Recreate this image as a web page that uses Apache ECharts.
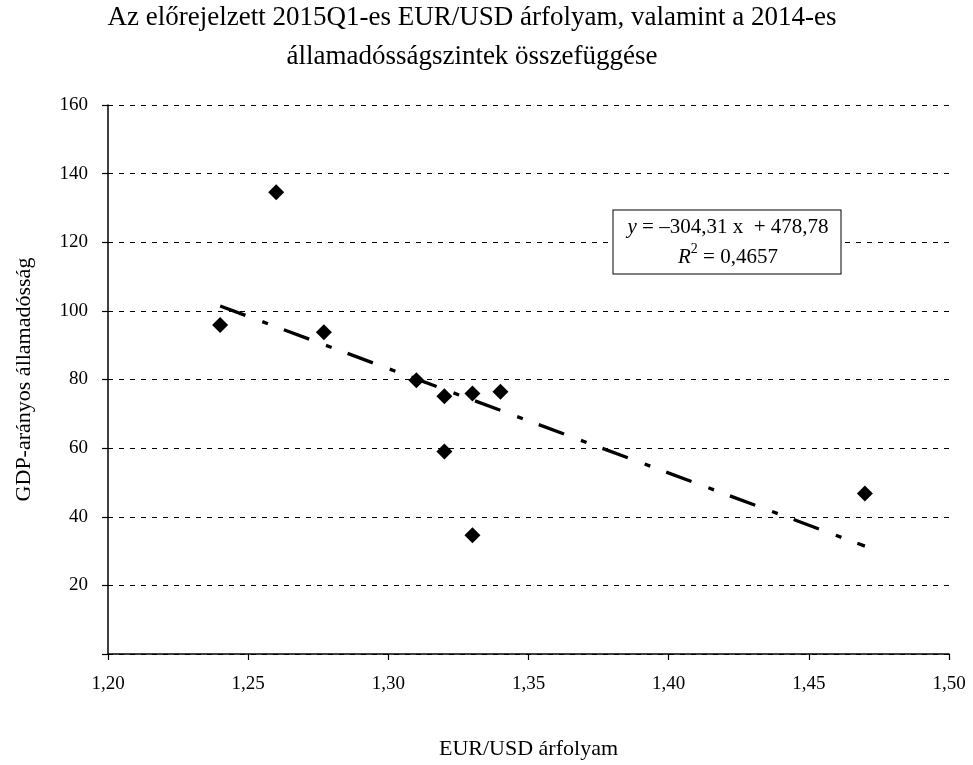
<!DOCTYPE html>
<html>
<head>
<meta charset="utf-8">
<script src="https://cdn.jsdelivr.net/npm/echarts@6/dist/echarts.min.js"></script>
<style>html,body{margin:0;padding:0;background:#fff}#c{width:973px;height:765px}</style>
</head>
<body>
<div id="c"></div>
<script>
// Data
const eurUsd = [1.24, 1.26, 1.277, 1.31, 1.32, 1.32, 1.33, 1.33, 1.34, 1.47];
const debtRatio = [95.9, 134.6, 93.8, 79.8, 75.1, 59.0, 75.9, 34.6, 76.4, 46.8];
const trendSlope = -304.31;
const trendIntercept = 478.78;
const rSquared = 0.4657;
const xTicks = [1.20, 1.25, 1.30, 1.35, 1.40, 1.45, 1.50];
const yTicks = [0, 20, 40, 60, 80, 100, 120, 140, 160];
const titleLines = ['Az előrejelzett 2015Q1-es EUR/USD árfolyam, valamint a 2014-es', 'államadósságszintek összefüggése'];
const xName = 'EUR/USD árfolyam';
const yName = 'GDP-arányos államadósság';

const FONT = "'Liberation Serif', 'Times New Roman', serif";
const fmt = (v, d) => v.toFixed(d).replace('.', ',');

const points = eurUsd.map((x, i) => [x, debtRatio[i]]);
const xMinData = Math.min(...eurUsd), xMaxData = Math.max(...eurUsd);
const trend = [xMinData, xMaxData].map(x => [x, trendIntercept + trendSlope * x]);

const chart = echarts.init(document.getElementById('c'), null, {renderer: 'canvas'});
chart.setOption({
  backgroundColor: '#fff',
  animation: false,
  textStyle: {fontFamily: FONT, color: '#000'},
  grid: {left: 108, right: 24, top: 105, bottom: 110, containLabel: false},
  xAxis: {
    type: 'value',
    min: xTicks[0], max: xTicks[xTicks.length - 1], interval: 0.05,
    name: xName, nameLocation: 'middle', nameGap: 84,
    nameTextStyle: {fontFamily: FONT, fontSize: 22, color: '#000'},
    axisLine: {show: true, onZero: false, lineStyle: {color: '#000', width: 1.5}},
    axisTick: {show: true, length: 6, lineStyle: {color: '#000', width: 1.2}},
    axisLabel: {fontFamily: FONT, fontSize: 19, color: '#000', margin: 21, formatter: v => fmt(v, 2)},
    splitLine: {show: false}
  },
  yAxis: {
    type: 'value',
    min: yTicks[0], max: yTicks[yTicks.length - 1], interval: 20,
    name: yName, nameLocation: 'middle', nameGap: 73, nameRotate: 90,
    nameTextStyle: {fontFamily: FONT, fontSize: 22, color: '#000'},
    axisLine: {show: true, onZero: false, lineStyle: {color: '#000', width: 1.5}},
    axisTick: {show: true, length: 6, lineStyle: {color: '#000', width: 1.2}},
    axisLabel: {fontFamily: FONT, fontSize: 19, color: '#000', margin: 20, formatter: v => (v === 0 ? '' : String(v))},
    splitLine: {show: true, lineStyle: {color: '#000', width: 1.2, type: [5, 6]}}
  },
  series: [
    {
      type: 'line',
      data: trend,
      showSymbol: false,
      symbol: 'none',
      lineStyle: {color: '#000', width: 3.3, type: [27, 18, 6, 17]},
      z: 2
    },
    {
      type: 'scatter',
      data: points,
      symbol: 'diamond',
      symbolSize: 16,
      itemStyle: {color: '#000', opacity: 1},
      z: 3
    }
  ],
  graphic: [
    {
      type: 'text',
      x: 472, y: -2,
      style: {
        text: titleLines.join('\n'),
        font: '27px ' + FONT,
        fill: '#000',
        align: 'center',
        verticalAlign: 'top',
        lineHeight: 39
      }
    },
    {
      type: 'text',
      x: 727, y: 242,
      style: {
        text: '{i|y} = –' + fmt(-trendSlope, 2) + ' x  + ' + fmt(trendIntercept, 2) + '\n{i|R}{s|2} = ' + fmt(rSquared, 4),
        font: '21px ' + FONT,
        fill: '#000',
        align: 'center',
        verticalAlign: 'middle',
        lineHeight: 30,
        backgroundColor: '#fff',
        borderColor: '#000',
        borderWidth: 1,
        padding: [2, 12, 1, 14],
        rich: {
          i: {font: 'italic 21px ' + FONT, fill: '#000'},
          s: {font: '14px ' + FONT, fill: '#000', verticalAlign: 'top', padding: [0, 0, 10, 0]}
        }
      },
      z: 10
    }
  ]
});
</script>
</body>
</html>
